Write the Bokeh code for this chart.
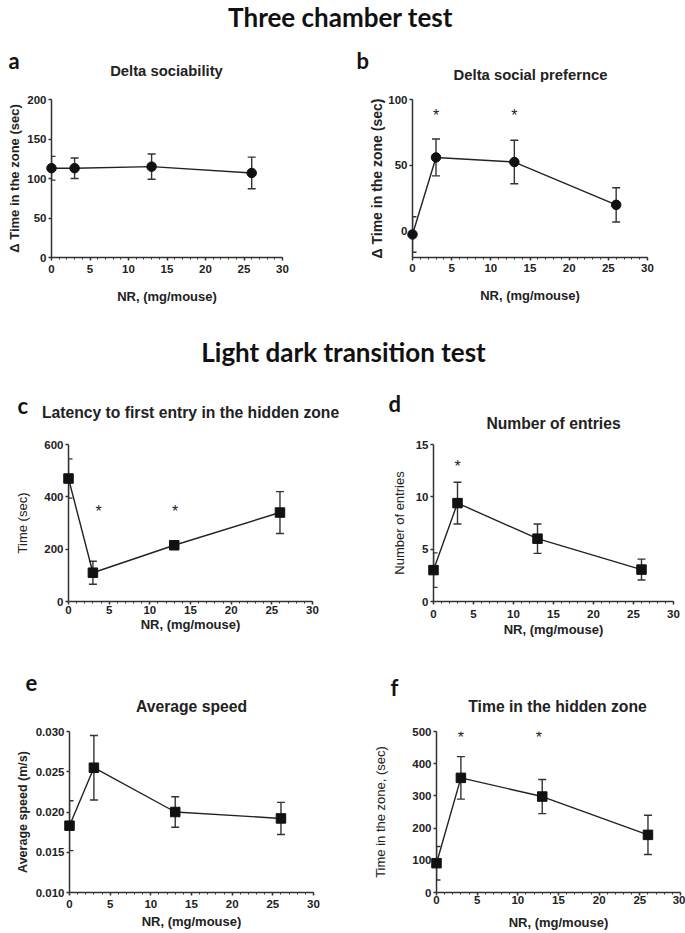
from bokeh.plotting import figure
from bokeh.models import (ColumnDataSource, Whisker, TeeHead, Label, Range1d,
                          FixedTicker, PrintfTickFormatter)
from bokeh.layouts import column, row
from bokeh.embed import file_html
from bokeh.resources import INLINE
from bokeh.core.properties import value

# ---------------- data ----------------
dose = [0, 3, 13, 26]
x_ticks = [0, 5, 10, 15, 20, 25, 30]
x_minor = list(range(0, 31))

soc_mean = [113, 113, 115, 107]
soc_sem = [15, 13, 16, 20]
soc_yticks = [0, 50, 100, 150, 200]

pref_mean = [-2.5, 56, 52.5, 20]
pref_sem = [13.5, 14, 16.5, 13]
pref_yticks = [0, 50, 100]
pref_star_x = [3, 13]
pref_star_y = [88, 88]

lat_mean = [470, 110, 215, 340]
lat_sem = [75, 44, 12, 80]
lat_yticks = [0, 200, 400, 600]
lat_star_x = [3.7, 13.1]
lat_star_y = [345, 345]

ent_mean = [3.0, 9.4, 6.0, 3.05]
ent_sem = [1.65, 2.0, 1.4, 1.0]
ent_yticks = [0, 5, 10, 15]
ent_star_x = [3]
ent_star_y = [12.9]

spd_mean = [0.0183, 0.0255, 0.0200, 0.0192]
spd_sem = [0.0031, 0.0040, 0.0019, 0.0020]
spd_yticks = [0.010, 0.015, 0.020, 0.025, 0.030]

hid_mean = [91, 356, 298, 179]
hid_sem = [52, 66, 53, 61]
hid_yticks = [0, 100, 200, 300, 400, 500]
hid_star_x = [3, 12.6]
hid_star_y = [482, 482]

XLABEL = "NR, (mg/mouse)"
AX = "#333333"
FONT = "Liberation Sans"
PAGE_W = 685
LEFT_W = 348


def strip(top, h, items):
    """A text-only strip (frame == canvas). items: (text, page_x, page_y, kind)."""
    p = figure(width=PAGE_W, height=h, x_range=Range1d(0, 1), y_range=Range1d(0, 1),
               x_axis_location=None, y_axis_location=None, title=None,
               min_border=0, toolbar_location=None, output_backend="svg",
               outline_line_color=None)
    p.grid.visible = False
    for text, px, py, kind in items:
        if kind == "header":
            kw = dict(text_align="center", text_baseline="middle", text_font="Lato",
                      text_font_style="bold", text_font_size="26px", text_color="#111111")
        elif kind == "letter":
            kw = dict(text_align="left", text_baseline="alphabetic", text_font="Lato",
                      text_font_style="bold", text_font_size="22px", text_color="#111111")
        elif kind == "title_s":
            kw = dict(text_align="center", text_baseline="middle", text_font=FONT,
                      text_font_style="bold", text_font_size="14.8px", text_color="#222222")
        else:
            kw = dict(text_align="center", text_baseline="middle", text_font=FONT,
                      text_font_style="bold", text_font_size="15.7px", text_color="#222222")
        p.add_layout(Label(x=px, y=top + h - py, x_units="screen", y_units="screen",
                           text=text, **kw))
    return p


def panel(fig, frame, yrange, yticks, mean, sem, marker,
          ylabel, ylabel_bold, ylabel_size, ylab_so, xtick_so, xlab_so,
          star_x=None, star_y=None, yfmt=None):
    fx, fy, fw, fh = fig
    l, t, r, b = frame
    p = figure(width=fw, height=fh, x_range=Range1d(0, 30), y_range=Range1d(*yrange),
               title=None, toolbar_location=None, output_backend="svg",
               min_border_left=l - fx, min_border_right=fx + fw - r,
               min_border_top=t - fy, min_border_bottom=fy + fh - b,
               outline_line_color=None)
    p.grid.visible = False

    src = ColumnDataSource(dict(x=dose, y=mean,
                                upper=[m + s for m, s in zip(mean, sem)],
                                lower=[m - s for m, s in zip(mean, sem)]))
    wk = Whisker(source=src, base="x", upper="upper", lower="lower",
                 line_color=AX, line_width=1.4,
                 upper_head=TeeHead(size=8, line_color=AX, line_width=1.4),
                 lower_head=TeeHead(size=8, line_color=AX, line_width=1.4))
    wk.level = "annotation"
    p.add_layout(wk)
    lr = p.line("x", "y", source=src, line_color="#222222", line_width=1.4)
    lr.level = "overlay"
    mr = p.scatter("x", "y", source=src, marker=marker, size=9.5,
                   fill_color="#111111", line_color="#111111")
    mr.level = "overlay"

    if star_x:
        p.text(x=star_x, y=star_y, text=["*"] * len(star_x),
               text_font=value(FONT), text_font_size="16px",
               text_align="center", text_baseline="middle", text_color="#222222")

    for ax in (p.xaxis[0], p.yaxis[0]):
        ax.axis_line_color = AX
        ax.axis_line_width = 1.5
        ax.major_tick_line_color = AX
        ax.major_tick_line_width = 1.5
        ax.major_tick_out = 3
        ax.major_tick_in = 0
        ax.major_label_text_font = FONT
        ax.major_label_text_font_style = "bold"
        ax.major_label_text_font_size = "11.5px"
        ax.major_label_text_color = "#222222"
        ax.axis_label_text_font = FONT
        ax.axis_label_text_color = "#222222"

    xa = p.xaxis[0]
    xa.ticker = FixedTicker(ticks=x_ticks, minor_ticks=x_minor)
    xa.minor_tick_line_color = AX
    xa.minor_tick_line_width = 1
    xa.minor_tick_out = 2
    xa.minor_tick_in = 0
    xa.major_label_standoff = xtick_so
    xa.axis_label = XLABEL
    xa.axis_label_text_font_style = "bold"
    xa.axis_label_text_font_size = "13px"
    xa.axis_label_standoff = xlab_so

    ya = p.yaxis[0]
    ya.ticker = FixedTicker(ticks=yticks)
    ya.minor_tick_line_color = None
    ya.major_label_standoff = 2
    if yfmt:
        ya.formatter = PrintfTickFormatter(format=yfmt)
    ya.axis_label = ylabel
    ya.axis_label_text_font_style = "bold" if ylabel_bold else "normal"
    ya.axis_label_text_font_size = ylabel_size
    ya.axis_label_standoff = ylab_so
    return p


RW = PAGE_W - LEFT_W

s1 = strip(0, 82, [("Three chamber test", 340, 16, "header"),
                   ("a", 8, 60, "letter"), ("b", 356, 60, "letter"),
                   ("Delta sociability", 166, 70, "title_s"),
                   ("Delta social prefernce", 530, 74, "title_s")])
pa = panel((0, 82, LEFT_W, 238), (51, 94, 282, 257), (0, 200), soc_yticks, soc_mean, soc_sem,
           "circle", "\u0394 Time in the zone (sec)", True, "13px", 2, 4, 13)
pb = panel((LEFT_W, 82, RW, 238), (412, 99, 647, 265), (-20, 100), pref_yticks, pref_mean,
           pref_sem, "circle", "\u0394 Time in the zone (sec)", True, "14px", 0, 3, 13,
           pref_star_x, pref_star_y)

s2 = strip(320, 112, [("Light dark transition test", 343, 351, "header"),
                      ("c", 17, 405, "letter"), ("d", 388, 403, "letter"),
                      ("Latency to first entry in the hidden zone", 190, 412, "title_l"),
                      ("Number of entries", 553, 423, "title_l")])
pc = panel((0, 432, LEFT_W, 208), (68, 444, 312, 607), (0, 600), lat_yticks, lat_mean,
           lat_sem, "square", "Time (sec)", False, "13px", 11, 1, 0, lat_star_x, lat_star_y)
pd_ = panel((LEFT_W, 432, RW, 208), (433, 439, 673, 601), (0, 15), ent_yticks, ent_mean,
            ent_sem, "square", "Number of entries", False, "13px", 6, 5, 1,
            ent_star_x, ent_star_y)

s3 = strip(640, 78, [("e", 25, 682, "letter"), ("f", 390, 687, "letter"),
                     ("Average speed", 191, 706, "title_l"),
                     ("Time in the hidden zone", 557, 706, "title_l")])
pe = panel((0, 718, LEFT_W, 215), (69, 730, 313, 892), (0.010, 0.030), spd_yticks, spd_mean,
           spd_sem, "square", "Average speed (m/s)", True, "12.5px", 3, 4, 3, yfmt="%.3f")
pf = panel((LEFT_W, 718, RW, 215), (436, 731, 680, 894), (0, 500), hid_yticks, hid_mean,
           hid_sem, "square", "Time in the zone, (sec)", False, "13px", 21, 0, 8,
           hid_star_x, hid_star_y)

layout = column(s1, row(pa, pb), s2, row(pc, pd_), s3, row(pe, pf))
open("out.html", "w").write(file_html(layout, INLINE))
